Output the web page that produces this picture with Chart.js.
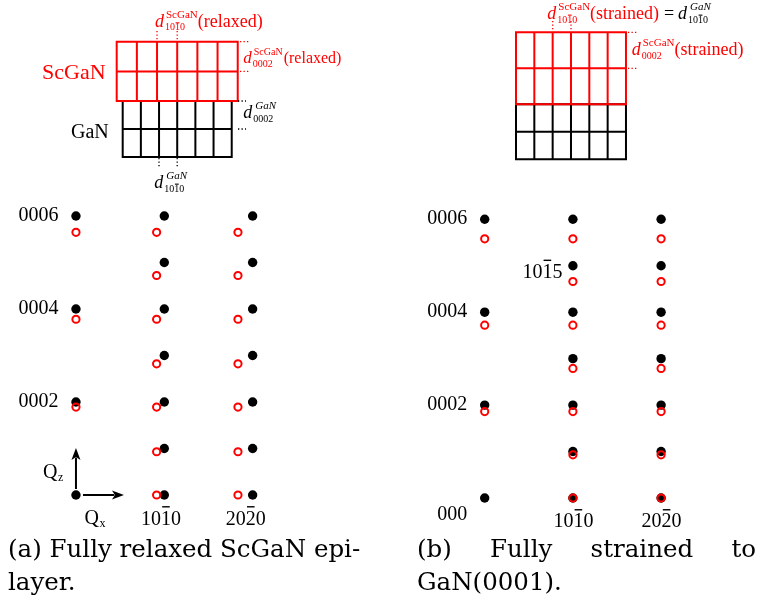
<!DOCTYPE html>
<html>
<head>
<meta charset="utf-8">
<script src="https://cdn.jsdelivr.net/npm/chart.js@4.4.1/dist/chart.umd.min.js"></script>
<style>
html, body { margin: 0; padding: 0; background: #fff; }
#wrap { position: relative; width: 760px; height: 603px; overflow: hidden; }
canvas { position: absolute; left: 0; top: 0; }
.cap { position: absolute; font-family: 'DejaVu Serif', serif; font-size: 24.5px; line-height: 33px; color: #000; }
</style>
</head>
<body>
<div id="wrap">
  <canvas id="chartA" width="760" height="603"></canvas>
  <canvas id="chartB" width="760" height="603"></canvas>
  <div class="cap" style="left:8px; top:532px; width:370px;">(a) Fully relaxed ScGaN epi-<br>layer.</div>
  <div class="cap" style="left:417px; top:532px; width:339px; text-align:justify;">(b) Fully strained to GaN(0001).</div>
</div>
<script>
// reciprocal space, Qx in units of GaN 10-10, Qz in units of GaN 0001
const gaNQx = [0, 1, 2];
const gaNQz = [0, 1, 2, 3, 4, 5, 6];
const relaxedQx = [0, 0.913, 1.834];
const relaxedQz = [0, 0.93, 1.89, 2.82, 3.78, 4.72, 5.65];
const strainedQx = [0, 1, 2];
const strainedQz = [0, 0.93, 1.86, 2.79, 3.72, 4.66, 5.58];

// l orders present in each column (h = 0, 1, 2)
const gaNLevels = [[0, 2, 4, 6], [0, 1, 2, 3, 4, 5, 6], [0, 1, 2, 3, 4, 5, 6]];
const scGaNLevels = [[2, 4, 6], [0, 1, 2, 3, 4, 5, 6], [0, 1, 2, 3, 4, 5, 6]];

const rowLabels = ['0002', '0004', '0006'];
const rowLabelLevels = [2, 4, 6];
const colLabels = ['1010', '2020'];   // bar over the 3rd digit
const colLabelCols = [1, 2];

const latticeCols = 6;
const latticeRows = 2;

const SERIF = '"Liberation Serif", "Times New Roman", serif';
const RED = '#ff0000';

function font(size, italic) {
    return (italic ? 'italic ' : '') + size + 'px ' + SERIF;
}

function points(qx, qz, levels) {
    var out = [];
    levels.forEach(function (ls, h) {
        ls.forEach(function (l) { out.push({ x: qx[h], y: qz[l] }); });
    });
    return out;
}

// text with an overbar on one digit (Miller-Bravais index)
function drawMiller(ctx, text, bar, x, y, size, align, raise) {
    ctx.font = font(size, false);
    ctx.textAlign = 'left';
    ctx.textBaseline = 'alphabetic';
    var w = ctx.measureText(text).width;
    var left = align === 'right' ? x - w : (align === 'center' ? x - w / 2 : x);
    ctx.fillText(text, left, y);
    if (bar !== null && bar !== undefined) {
        var pre = ctx.measureText(text.slice(0, bar)).width;
        var cw = ctx.measureText(text.charAt(bar)).width;
        ctx.fillRect(left + pre + cw * 0.12, y - size * (raise || 0.9), cw * 0.76, Math.max(1.1, size * 0.07));
    }
    return w;
}

// d with superscript and subscript, returns x after it
function drawD(ctx, x, y, color, sup, supItalic, sub, subBar, size) {
    ctx.fillStyle = color;
    ctx.textAlign = 'left';
    ctx.textBaseline = 'alphabetic';
    ctx.font = font(size, true);
    ctx.fillText('d', x, y);
    var sx = x + ctx.measureText('d').width + 1;
    ctx.font = font(Math.round(size * 0.6), supItalic);
    ctx.fillText(sup, sx + (supItalic ? 2 : 1), y - size * 0.5);
    var supW = ctx.measureText(sup).width + (supItalic ? 2 : 1);
    var subW = drawMiller(ctx, sub, subBar, sx, y + size * 0.2, Math.round(size * 0.56), 'left', 0.8);
    return sx + Math.max(supW, subW) + 1;
}

function drawGrid(ctx, x0, y0, cols, rows, cw, ch, color) {
    ctx.strokeStyle = color;
    ctx.lineWidth = 2;
    ctx.setLineDash([]);
    ctx.beginPath();
    for (var i = 0; i <= cols; i++) {
        ctx.moveTo(x0 + i * cw, y0);
        ctx.lineTo(x0 + i * cw, y0 + rows * ch);
    }
    for (var j = 0; j <= rows; j++) {
        ctx.moveTo(x0 - 1, y0 + j * ch);
        ctx.lineTo(x0 + cols * cw + 1, y0 + j * ch);
    }
    ctx.stroke();
}

function dotted(ctx, x1, y1, x2, y2, color) {
    ctx.strokeStyle = color;
    ctx.lineWidth = 1.3;
    ctx.setLineDash([1.3, 2.2]);
    ctx.beginPath();
    ctx.moveTo(x1, y1);
    ctx.lineTo(x2, y2);
    ctx.stroke();
    ctx.setLineDash([]);
}

function arrow(ctx, x1, y1, x2, y2) {
    var a = Math.atan2(y2 - y1, x2 - x1), len = 12, half = 4.5;
    ctx.strokeStyle = '#000';
    ctx.fillStyle = '#000';
    ctx.lineWidth = 2;
    ctx.beginPath();
    ctx.moveTo(x1, y1);
    ctx.lineTo(x2 - Math.cos(a) * len * 0.8, y2 - Math.sin(a) * len * 0.8);
    ctx.stroke();
    ctx.beginPath();
    ctx.moveTo(x2, y2);
    ctx.lineTo(x2 - Math.cos(a) * len - Math.sin(a) * half, y2 - Math.sin(a) * len + Math.cos(a) * half);
    ctx.lineTo(x2 - Math.cos(a) * len * 0.75, y2 - Math.sin(a) * len * 0.75);
    ctx.lineTo(x2 - Math.cos(a) * len + Math.sin(a) * half, y2 - Math.sin(a) * len - Math.cos(a) * half);
    ctx.closePath();
    ctx.fill();
}

// labels tied to the reciprocal lattice points
function drawPointLabels(ctx, sx, sy, scQx) {
    ctx.fillStyle = '#000';
    rowLabels.forEach(function (t, i) {
        drawMiller(ctx, t, null, sx.getPixelForValue(gaNQx[0]) - 17.5,
            sy.getPixelForValue(gaNQz[rowLabelLevels[i]]) + 4.5, 20, 'right');
    });
    colLabels.forEach(function (t, i) {
        var h = colLabelCols[i];
        var cx = (sx.getPixelForValue(gaNQx[h]) + sx.getPixelForValue(scQx[h])) / 2 + 0.5;
        drawMiller(ctx, t, 2, cx, sy.getPixelForValue(gaNQz[0]) + 29.5, 20, 'center', 0.92);
    });
}

function drawPanelA(chart) {
    var ctx = chart.ctx, sx = chart.scales.x, sy = chart.scales.y;
    ctx.save();
    drawGrid(ctx, 122.7, 101, latticeCols, latticeRows, 18.17, 28, '#000');
    drawGrid(ctx, 116.7, 41.7, latticeCols, latticeRows, 20.17, 29.7, RED);
    dotted(ctx, 157, 31, 157, 40, RED);
    dotted(ctx, 177.2, 31, 177.2, 40, RED);
    dotted(ctx, 240, 41.7, 249, 41.7, RED);
    dotted(ctx, 240, 71.4, 249, 71.4, RED);
    dotted(ctx, 238, 101, 246, 101, '#000');
    dotted(ctx, 238, 129, 246, 129, '#000');
    dotted(ctx, 159, 158, 159, 168, '#000');
    dotted(ctx, 177.2, 158, 177.2, 168, '#000');

    ctx.fillStyle = RED;
    ctx.font = font(22);
    ctx.fillText('ScGaN', 42, 79);
    ctx.fillStyle = '#000';
    ctx.font = font(20);
    ctx.fillText('GaN', 71, 138);

    var e = drawD(ctx, 155, 26.7, RED, 'ScGaN', false, '1010', 2, 18);
    ctx.font = font(18);
    ctx.fillText('(relaxed)', e - 1, 26.7);
    e = drawD(ctx, 243.3, 63.3, RED, 'ScGaN', false, '0002', null, 17);
    ctx.font = font(16);
    ctx.fillText('(relaxed)', e, 63.3);
    drawD(ctx, 243.3, 118.3, '#000', 'GaN', true, '0002', null, 18);
    drawD(ctx, 154.3, 188, '#000', 'GaN', true, '1010', 2, 18);

    drawPointLabels(ctx, sx, sy, relaxedQx);

    // Qz / Qx arrows from the origin
    var ox = sx.getPixelForValue(0), oy = sy.getPixelForValue(0);
    arrow(ctx, ox, oy - 6, ox, oy - 47);
    arrow(ctx, ox + 7, oy, ox + 48, oy);
    ctx.fillStyle = '#000';
    ctx.font = font(20);
    ctx.fillText('Q', ox - 33, oy - 17.5);
    ctx.font = font(12);
    ctx.fillText('z', ox - 18, oy - 14.5);
    ctx.font = font(20);
    ctx.fillText('Q', ox + 8.5, oy + 29);
    ctx.font = font(12);
    ctx.fillText('x', ox + 23.5, oy + 32);
    ctx.restore();
}

function drawPanelB(chart) {
    var ctx = chart.ctx, sx = chart.scales.x, sy = chart.scales.y;
    ctx.save();
    drawGrid(ctx, 516, 104.3, latticeCols, latticeRows, 18.33, 27.5, '#000');
    drawGrid(ctx, 516, 32.3, latticeCols, latticeRows, 18.33, 36, RED);
    dotted(ctx, 552.7, 21, 552.7, 31, RED);
    dotted(ctx, 571, 21, 571, 31, RED);
    dotted(ctx, 628, 32.3, 638, 32.3, RED);
    dotted(ctx, 628, 68.3, 638, 68.3, RED);

    var e = drawD(ctx, 547.3, 19, RED, 'ScGaN', false, '1010', 2, 18);
    ctx.font = font(18);
    ctx.fillText('(strained)', e - 1, 19);
    ctx.fillStyle = '#000';
    ctx.fillText('=', 664, 19);
    drawD(ctx, 678, 19, '#000', 'GaN', true, '1010', 2, 18);

    e = drawD(ctx, 631.7, 55, RED, 'ScGaN', false, '0002', null, 18);
    ctx.font = font(18);
    ctx.fillText('(strained)', e - 1, 55);

    drawPointLabels(ctx, sx, sy, strainedQx);
    ctx.fillStyle = '#000';
    drawMiller(ctx, '000', null, sx.getPixelForValue(gaNQx[0]) - 17.5, sy.getPixelForValue(0) + 22, 20, 'right');
    drawMiller(ctx, '1015', 2, sx.getPixelForValue(gaNQx[1]) - 10.5, sy.getPixelForValue(gaNQz[5]) + 12.3, 20, 'right', 0.92);
    ctx.restore();
}

function makeChart(id, scQx, scQz, padding, drawFn) {
    return new Chart(document.getElementById(id), {
        type: 'scatter',
        data: {
            datasets: [
                {
                    label: 'ScGaN',
                    data: points(scQx, scQz, scGaNLevels),
                    pointRadius: 3.6,
                    pointBorderWidth: 2,
                    pointBorderColor: RED,
                    pointBackgroundColor: 'rgba(0,0,0,0)'
                },
                {
                    label: 'GaN',
                    data: points(gaNQx, gaNQz, gaNLevels),
                    pointRadius: 4.7,
                    pointBorderWidth: 0,
                    pointBorderColor: '#000',
                    pointBackgroundColor: '#000'
                }
            ]
        },
        options: {
            responsive: false,
            animation: false,
            events: [],
            layout: { padding: padding },
            scales: {
                x: { type: 'linear', min: -0.5, max: 2.5, display: false },
                y: { type: 'linear', min: -0.5, max: 6.5, display: false }
            },
            plugins: { legend: { display: false }, tooltip: { enabled: false } }
        },
        plugins: [{ id: 'decor_' + id, afterDatasetsDraw: drawFn }]
    });
}

makeChart('chartA', relaxedQx, relaxedQz, { left: 31.8, right: 463.2, top: 192.75, bottom: 84.75 }, drawPanelA);
makeChart('chartB', strainedQx, strainedQz, { left: 440.6, right: 54.8, top: 196.05, bottom: 81.8 }, drawPanelB);
</script>
</body>
</html>
